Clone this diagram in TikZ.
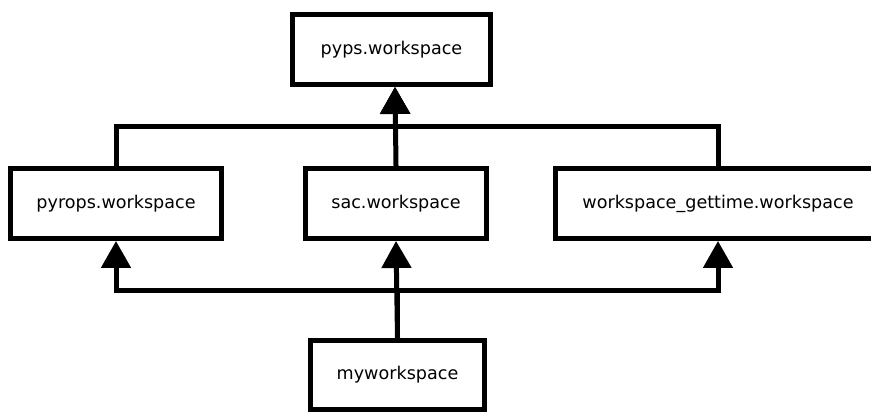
\documentclass[tikz,border=0pt]{standalone}
\usepackage{fontspec}
\setmainfont{DejaVu Sans}
\usetikzlibrary{arrows.meta}

\begin{document}
\begin{tikzpicture}[
        wsbox/.style={draw, line width=0.1cm, minimum height=1.4cm, inner sep=0pt, font=\fontsize{10pt}{12pt}\selectfont},
        dep/.style={line width=0.1cm, -{Triangle[width=0.58cm, length=0.54cm]}},
        link/.style={line width=0.1cm}
    ]
                \useasboundingbox (0,0) rectangle (17.42,8.24);
                \node[wsbox, minimum width=3.96cm] (pyps) at (7.83,7.25) {pyps.workspace}; %pyps
                \node[wsbox, minimum width=4.22cm] (pyrops) at (2.32,4.17) {pyrops.workspace}; %pyrops
                \node[wsbox, minimum width=3.62cm] (sac) at (7.92,4.17) {sac.workspace}; %sac
                \node[wsbox, minimum width=6.5cm] (gettime) at (14.36,4.17) {workspace\_gettime.workspace}; %gettime
                \node[wsbox, minimum width=3.48cm, minimum height=1.38cm] (myws) at (7.95,0.74) {myworkspace}; %myws

                \coordinate (upj) at (7.9,5.7);
                \coordinate (lowj) at (7.95,2.43);

                \draw[dep] (pyrops.north) |- (upj) -- (upj |- pyps.south);
                \draw[dep] (sac.north) -- (upj |- pyps.south);
                \draw[dep] (gettime.north) |- (upj) -- (upj |- pyps.south);

                \draw[link] (myws.north) -- (lowj);
                \draw[dep] (lowj) -| (pyrops.south);
                \draw[dep] (myws.north) -- (sac.south);
                \draw[dep] (lowj) -| (gettime.south);
            \end{tikzpicture}
\end{document}
